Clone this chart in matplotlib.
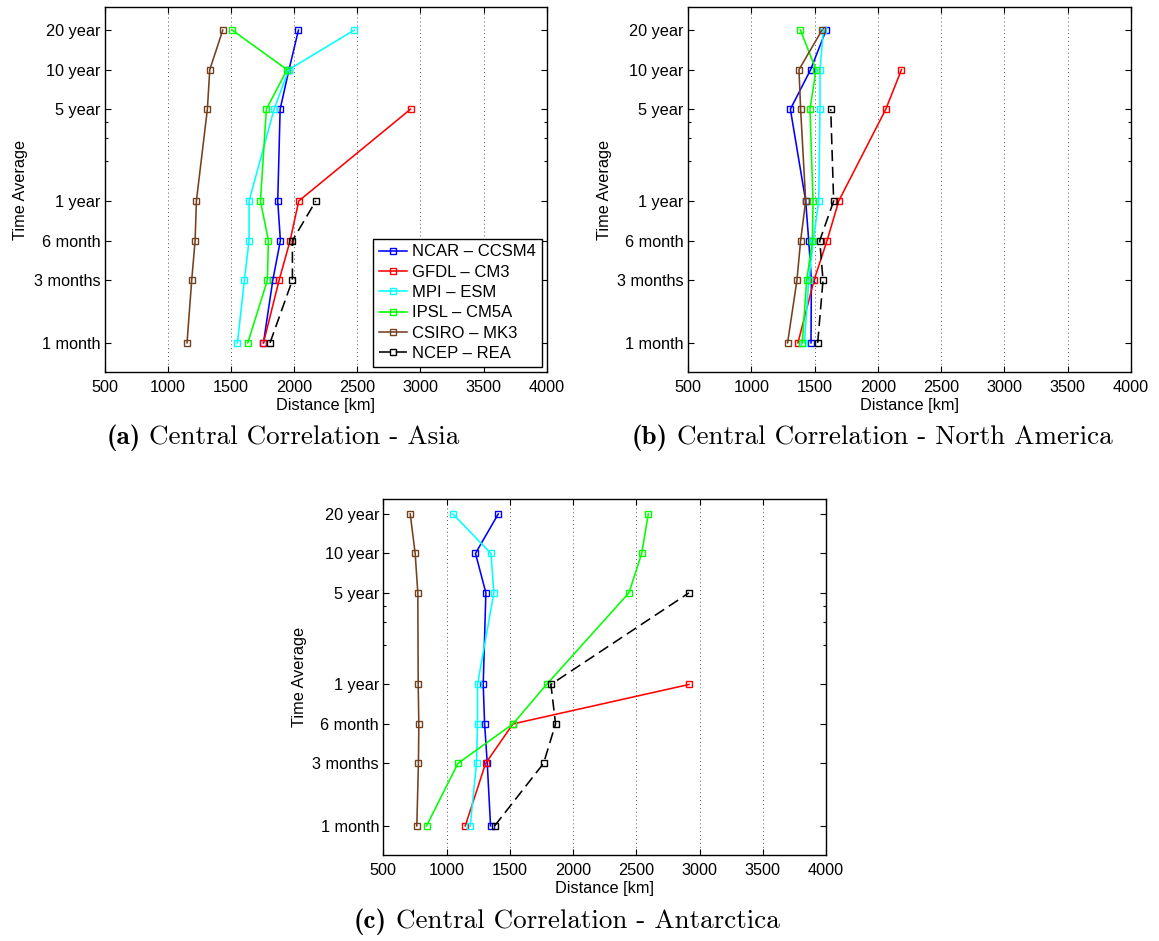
import numpy as np
import matplotlib
matplotlib.use("Agg")
from matplotlib import pyplot as plt

nan = np.nan

# time averages in years: 1 month .. 20 year
periods = [1 / 12, 0.25, 0.5, 1, 5, 10, 20]
period_labels = ['1 month', '3 months', '6 month', '1 year', '5 year', '10 year', '20 year']

models = ['NCAR \u2013 CCSM4', 'GFDL \u2013 CM3', 'MPI \u2013 ESM',
          'IPSL \u2013 CM5A', 'CSIRO \u2013 MK3', 'NCEP \u2013 REA']

# (a) Asia
asia_ncar = [1758, 1832, 1892, 1871, 1890, 1960, 2035]
asia_gfdl = [1758, 1882, 1969, 2037, 2922, nan, nan]
asia_mpi = [1552, 1607, 1644, 1644, 1842, 1958, 2476]
asia_ipsl = [1634, 1789, 1797, 1734, 1781, 1945, 1510]
asia_csiro = [1153, 1190, 1217, 1227, 1314, 1333, 1436]
asia_ncep = [1810, 1987, 1987, 2172, nan, nan, nan]

# (b) North America
na_ncar = [1472, 1475, 1454, 1430, 1309, 1469, 1591]
na_gfdl = [1369, 1496, 1599, 1691, 2063, 2187, nan]
na_mpi = [1420, 1455, 1490, 1533, 1543, 1543, 1570]
na_ipsl = [1403, 1438, 1483, 1488, 1464, 1512, 1388]
na_csiro = [1287, 1361, 1390, 1430, 1390, 1377, 1559]
na_ncep = [1525, 1567, 1541, 1651, 1628, nan, nan]

# (c) Antarctica
ant_ncar = [1348, 1322, 1301, 1290, 1311, 1229, 1409]
ant_gfdl = [1148, 1309, 1525, 2917, nan, nan, nan]
ant_mpi = [1187, 1237, 1245, 1245, 1374, 1351, 1050]
ant_ipsl = [842, 1090, 1525, 1791, 2442, 2543, 2595]
ant_csiro = [765, 778, 781, 776, 773, 752, 713]
ant_ncep = [1380, 1767, 1862, 1825, 2917, nan, nan]

colors = ['#0000ff', '#ff0000', '#00ffff', '#00ff00', '#74411f', '#000000']
styles = ['-', '-', '-', '-', '-', '--']


def draw_panel(ax, series, ytop, legend=False):
    for vals, name, c, ls in zip(series, models, colors, styles):
        ax.plot(vals, periods, ls, color=c, lw=1.15, marker='s', ms=4.5,
                mfc='none', mec=c, mew=1.0, label=name,
                dashes=(7, 3.5) if ls == '--' else (None, None))
    ax.set_yscale('log')
    ax.set_ylim(0.05, ytop)
    ax.set_xlim(500, 4000)
    ax.set_xticks(np.arange(500, 4001, 500))
    ax.set_yticks(periods)
    ax.set_yticklabels(period_labels)
    ax.set_yticks([2, 3, 4], minor=True)
    ax.yaxis.set_minor_formatter(plt.NullFormatter())
    ax.tick_params(which='both', direction='in', top=True, right=True,
                   labelsize=11.7, length=4, width=0.8)
    ax.tick_params(axis='x', pad=6)
    ax.tick_params(axis='y', pad=3)
    ax.tick_params(which='minor', length=2.5)
    ax.xaxis.grid(True, linestyle=(0, (1, 3)), color='#555555', lw=0.7)
    ax.set_xlabel('Distance [km]', fontsize=11.7, labelpad=2)
    ax.set_ylabel('Time Average', fontsize=11.7, labelpad=4)
    for sp in ax.spines.values():
        sp.set_linewidth(1.0)
    if legend:
        leg = ax.legend(loc='lower right', fontsize=12, handlelength=1.7,
                        labelspacing=0.32, borderaxespad=0.3, fancybox=False,
                        borderpad=0.35, handletextpad=0.3, framealpha=1)
        leg.get_frame().set_edgecolor('black')
        leg.get_frame().set_linewidth(1.0)


def caption(fig, xc, yc, tag, text):
    # bold tag + roman text, centred together at (xc, yc) in pixels
    r = fig.canvas.get_renderer()
    t1 = fig.text(0, 0, tag, fontsize=19.5, family='cmb10', va='center')
    t2 = fig.text(0, 0, ' ' + text, fontsize=19.5, family='cmr10', va='center')
    w1 = t1.get_window_extent(r).width
    w2 = t2.get_window_extent(r).width
    x0 = xc - (w1 + w2) / 2
    t1.set_position((x0 / 1159, 1 - yc / 941))
    t2.set_position(((x0 + w1) / 1159, 1 - yc / 941))


plt.rcParams.update({
    'font.family': ['Liberation Sans', 'DejaVu Sans'],
})

fig = plt.figure(figsize=(11.59, 9.41), dpi=100)
ax_a = fig.add_axes([0.0902, 0.6047, 0.3815, 0.3879])
ax_b = fig.add_axes([0.5936, 0.6047, 0.3822, 0.3879])
ax_c = fig.add_axes([0.3307, 0.0914, 0.3820, 0.3783])

draw_panel(ax_a, [asia_ncar, asia_gfdl, asia_mpi, asia_ipsl, asia_csiro, asia_ncep], 30, legend=True)
draw_panel(ax_b, [na_ncar, na_gfdl, na_mpi, na_ipsl, na_csiro, na_ncep], 30)
draw_panel(ax_c, [ant_ncar, ant_gfdl, ant_mpi, ant_ipsl, ant_csiro, ant_ncep], 26)

caption(fig, 283, 438, '(a)', 'Central Correlation - Asia')
caption(fig, 872, 438, '(b)', 'Central Correlation - North America')
caption(fig, 567, 922, '(c)', 'Central Correlation - Antarctica')

fig.savefig('out.png', dpi=100)
